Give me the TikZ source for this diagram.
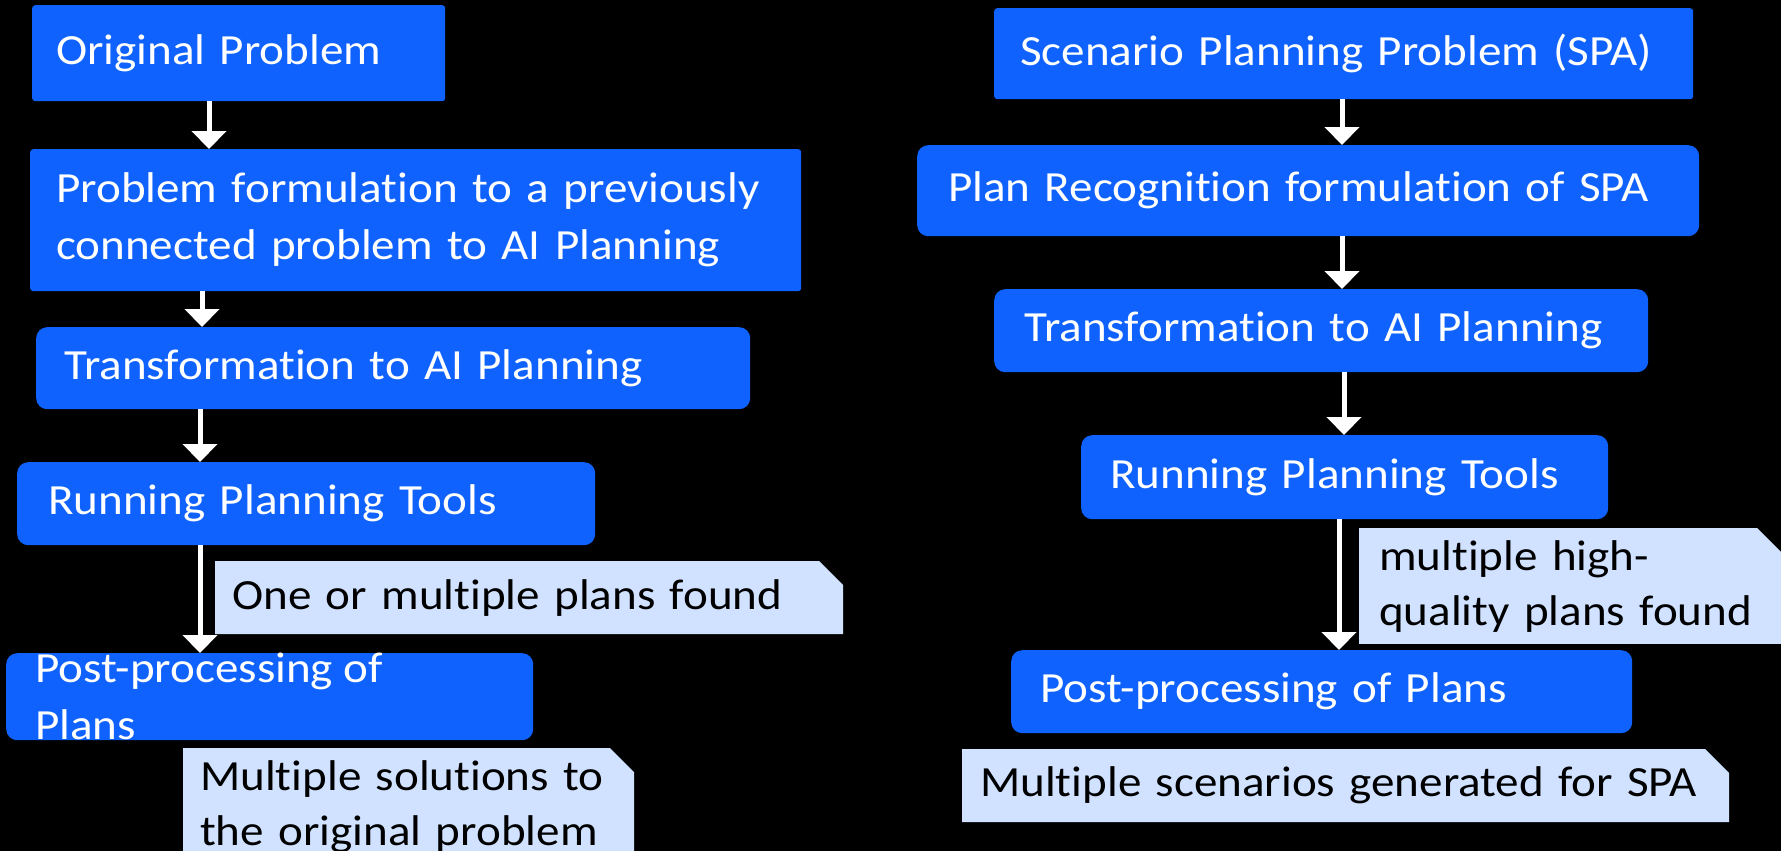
\documentclass[tikz,border=0pt]{standalone}
\usepackage{fontspec}
\setmainfont{Carlito}[FakeStretch=1.095, Ligatures=NoCommon]
\usepackage{xcolor}
\usepackage{tikz}
\usetikzlibrary{arrows.meta}
\usetikzlibrary{shapes.misc}

\definecolor{boxblue}{HTML}{0F62FE}
\definecolor{noteblue}{HTML}{D0E2FF}

\begin{document}
\begin{tikzpicture}[x=1pt, y=-1pt,
    stepbox/.style={fill=boxblue, text=white, anchor=north west, rounded corners=11pt,
        align=left, inner ysep=0pt, font=\fontsize{43}{57}\selectfont},
    sharpbox/.style={stepbox, rounded corners=3pt},
    boxtext/.style={text=white, align=left, inner sep=0pt, font=\fontsize{43}{57}\selectfont},
    notebox/.style={fill=noteblue, text=black, anchor=north west, chamfered rectangle,
        chamfered rectangle corners=north east, chamfered rectangle xsep=12pt,
        chamfered rectangle ysep=12pt, align=left, inner ysep=0pt,
        font=\fontsize{43}{55}\selectfont},
    flow/.style={draw=white, line width=5pt, -{Triangle[width=34pt, length=18pt]}}]
        \useasboundingbox (0, 0) rectangle (1781, 851);
        \fill[black] (0, 0) rectangle (1781, 851);

        % left column
        \node[sharpbox, minimum width=413pt, minimum height=96pt, inner xsep=24pt, text width=365pt]
            (orig) at (32, 5) {Original Problem};
        \node[sharpbox, minimum width=771pt, minimum height=142pt, inner xsep=26pt, text width=719pt]
            (form) at (30, 149) {Problem formulation to a previously\\connected problem to AI Planning};
        \node[stepbox, minimum width=714pt, minimum height=82pt, inner xsep=28pt, text width=658pt]
            (trans) at (36, 327) {Transformation to AI Planning};
        \node[stepbox, minimum width=578pt, minimum height=83pt, inner xsep=31pt, text width=516pt]
            (run) at (17, 462) {Running Planning Tools};
        \node[stepbox, minimum width=527pt, minimum height=87pt] (post) at (6, 653) {};
        \node[boxtext, anchor=west] (posttext) at ([xshift=29pt]post.west) {Post-processing of\\Plans};

        \node[notebox, minimum height=73pt, inner xsep=5pt, text width=594pt]
            (found) at (215, 561) {One or multiple plans found};
        \node[notebox, minimum height=108pt, inner xsep=5pt, text width=417pt]
            (sols) at (183, 748) {Multiple solutions to\\the original problem};

        % right column
        \node[sharpbox, minimum width=699pt, minimum height=91pt, inner xsep=26pt, text width=647pt]
            (spa) at (994, 8) {Scenario Planning Problem (SPA)};
        \node[stepbox, minimum width=782pt, minimum height=91pt, inner xsep=31pt, text width=720pt]
            (recog) at (917, 145) {Plan Recognition formulation of SPA};
        \node[stepbox, minimum width=654pt, minimum height=83pt, inner xsep=30pt, text width=594pt]
            (transr) at (994, 289) {Transformation to AI Planning};
        \node[stepbox, minimum width=527pt, minimum height=84pt, inner xsep=29pt, text width=469pt]
            (runr) at (1081, 435) {Running Planning Tools};
        \node[stepbox, minimum width=621pt, minimum height=83pt, inner xsep=29pt, text width=563pt]
            (postr) at (1011, 650) {Post-processing of Plans};

        \node[notebox, minimum height=106pt, inner xsep=8pt, text width=382pt]
            (hq) at (1359, 528) {multiple high-\\quality plans found};
        \node[notebox, minimum height=73pt, inner xsep=6pt, text width=731pt]
            (scen) at (962, 749) {Multiple scenarios generated for SPA};

        % arrows
        \coordinate (la) at (209, 0);
        \coordinate (lb) at (202, 0);
        \coordinate (lc) at (200, 0);
        \coordinate (ra) at (1342, 0);
        \coordinate (rb) at (1344, 0);
        \coordinate (rc) at (1339, 0);
        \draw[flow] (orig.south -| la) -- (form.north -| la);
        \draw[flow] (form.south -| lb) -- (trans.north -| lb);
        \draw[flow] (trans.south -| lc) -- (run.north -| lc);
        \draw[flow] (run.south -| lc) -- (post.north -| lc);
        \draw[flow] (spa.south -| ra) -- (recog.north -| ra);
        \draw[flow] (recog.south -| ra) -- (transr.north -| ra);
        \draw[flow] (transr.south -| rb) -- (runr.north -| rb);
        \draw[flow] (runr.south -| rc) -- (postr.north -| rc);
\end{tikzpicture}
\end{document}
